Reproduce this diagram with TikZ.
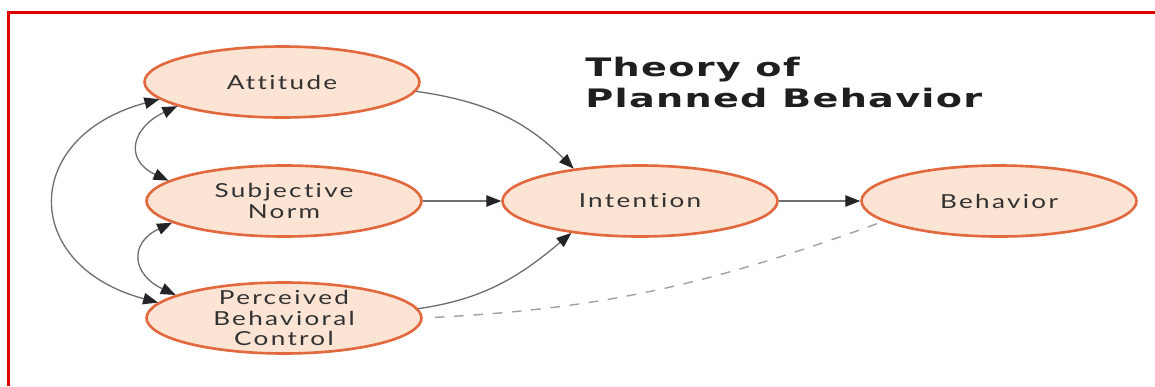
\documentclass[tikz,border=0pt]{standalone}
\usepackage{fontspec}
\setmainfont{Lato}
\newfontfamily\ovalfont[FakeStretch=1.35,LetterSpace=12,Ligatures=NoCommon]{Lato}
\newfontfamily\titlefont[FakeStretch=1.5,LetterSpace=5]{DejaVu Sans}
\usepackage{tikz}
\usetikzlibrary{shapes.geometric, arrows.meta}
\definecolor{ovalfill}{RGB}{252,228,212}
\definecolor{ovaldraw}{RGB}{226,104,62}
\definecolor{linkgray}{RGB}{110,110,115}
\definecolor{tipdark}{RGB}{35,35,40}
\definecolor{dashgray}{RGB}{160,160,165}
\definecolor{textgray}{RGB}{50,50,50}
\definecolor{framered}{RGB}{222,0,0}
\tikzset{headtip/.tip={Triangle[length=8.5pt,width=6.5pt,color=tipdark]}}

\begin{document}
\begin{tikzpicture}[x=0.02cm, y=-0.02cm,
  oval/.style={ellipse, draw=ovaldraw, line width=1.5pt, fill=ovalfill,
    minimum width=5.5cm, minimum height=1.42cm, inner sep=0pt,
    align=center, text=textgray,
    font=\ovalfont\fontsize{11}{11.8}\selectfont},
  link/.style={draw=linkgray, line width=0.75pt, -headtip},
  twoway/.style={draw=linkgray, line width=0.75pt, headtip-headtip}]
  \useasboundingbox (0,0) rectangle (1155,386);
  % frame
  \draw[framered, line width=0.05cm] (8.5,386) -- (8.5,12.5) -- (1155,12.5);

  \node[oval] (att) at (282,82) {Attitude};
  \node[oval] (sn) at (284,201) {Subjective\\Norm};
  \node[oval, inner ysep=-6pt] (pbc) at (284,318)
    {Perceived\\Behavioral\\Control};
  \node[oval] (int) at (640,201) {Intention};
  \node[oval] (beh) at (999,201) {Behavior};
  \node[anchor=north west, inner sep=0pt, align=left, text=black!88,
        font=\titlefont\bfseries\fontsize{14.5}{17.5}\selectfont]
    (title) at (585,57) {Theory of\\Planned Behavior};

  \draw[link] (att.-4) to[out=-8, in=135] (int.154);
  \draw[link] (sn) -- (int);
  \draw[link] (pbc.4) to[out=8, in=-140] (int.205);
  \draw[link] (int) -- (beh);
  \draw[dashgray, line width=0.8pt, dash pattern=on 5.5pt off 5.5pt,
        shorten <=0.24cm] (pbc.east) to[out=3, in=200] (beh.190);

  \draw[twoway] (att.193) to[out=205, in=155, looseness=1.7] (sn.170);
  \draw[twoway] (sn.191) to[out=205, in=155, looseness=1.7] (pbc.168);
  \draw[twoway] (att.188) to[out=195, in=165, looseness=1.8] (pbc.173);
\end{tikzpicture}
\end{document}
